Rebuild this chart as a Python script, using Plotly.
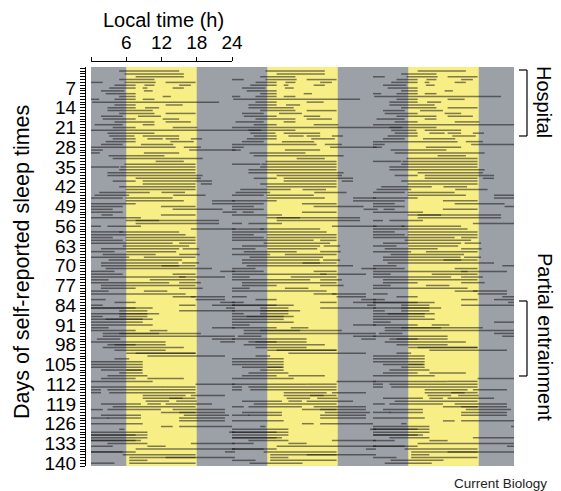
import plotly.graph_objects as go

# ---------------- data ----------------
# self-reported sleep episodes: day index, sleep onset (h), wake time (h)
sleep_day = [
    1, 2, 3, 4, 5, 5, 5, 6, 6, 6, 7, 7, 7, 8, 8, 9, 10, 10, 11, 11, 11,
    12, 13, 13, 14, 14, 15, 16, 16, 17, 17, 18, 18, 19, 19, 20, 20, 21, 21, 22,
    23, 24, 24, 25, 25, 25, 25, 26, 26, 27, 27, 28, 28, 29, 29, 30, 30, 31, 32, 33, 34,
    35, 35, 36, 37, 38, 39, 40, 40, 41, 41, 42, 43, 44, 44, 45, 45, 46, 46,
    47, 47, 48, 48, 49, 49, 50, 50, 51, 51, 52, 52, 53, 54, 54, 55, 56, 56, 57, 58, 58,
    59, 60, 60, 61, 61, 62, 62, 63, 64, 64, 65, 65, 66, 66, 67, 67, 68, 69, 69, 70, 70,
    71, 72, 72, 73, 73, 74, 74, 75, 75, 76, 76, 77, 78, 78, 79, 79, 80, 81, 81, 82, 82,
    83, 83, 84, 84, 84, 85, 85, 85, 86, 86, 87, 87, 88, 88, 89, 89, 90, 90, 91, 92, 92, 93, 93,
    94, 94, 95, 95, 96, 96, 97, 97, 98, 98, 99, 100, 101, 101, 102, 103, 104, 105,
    106, 107, 107, 108, 109, 110, 110, 111, 112, 113, 113, 114, 114, 115, 115, 116, 116, 117, 117,
    118, 118, 119, 119, 119, 120, 121, 121, 121, 122, 122, 123, 123, 124, 124, 124, 125, 126, 127, 127, 128, 129, 129,
    130, 130, 131, 132, 132, 133, 133, 134, 134, 135, 136, 136, 136, 137, 138, 138, 139, 140, 140, 141, 142,
]
sleep_on = [
    4.8, 5.7, 7.6, 4.8, 0.0, 5.7, 12.7, 4.0, 9.1, 15.0, 3.1, 8.8, 13.9, 1.7, 9.0, 2.5, 4.8, 12.2, 0.0, 4.0, 8.8,
    0.2, 4.0, 12.7, 2.8, 9.2, 2.8, 4.8, 12.7, 1.7, 8.0, 2.0, 12.2, 4.0, 12.7, 0.6, 8.8, 3.7, 13.9, 0.0,
    2.8, 3.1, 8.8, 3.7, 9.6, 12.7, 17.0, 2.5, 13.5, 1.7, 8.5, 0.0, 15.8, 0.0, 16.7, 0.0, 9.0, 3.0, 3.7, 11.0, 5.7,
    0.0, 5.0, 4.8, 2.8, 2.8, 7.6, 3.7, 8.8, 8.8, 18.7, 4.8, 5.9, 1.4, 12.0, 0.6, 14.0, 0.0, 5.9,
    5.9, 20.6, 0.0, 20.6, 0.0, 11.9, 0.0, 13.9, 0.0, 22.4, 1.8, 11.9, 0.0, 5.9, 7.6, 7.6, 0.0, 2.8, 17.0, 0.0, 4.8,
    0.0, 0.0, 5.9, 0.0, 5.9, 0.0, 15.0, 5.4, 1.7, 15.6, 0.0, 6.0, 2.0, 15.0, 0.0, 9.0, 3.0, 1.7, 15.5, 1.7, 12.0,
    2.5, 0.0, 22.0, 0.0, 13.9, 0.0, 15.0, 0.0, 10.0, 0.0, 15.0, 1.7, 1.7, 15.0, 0.0, 9.0, 0.0, 13.9, 17.0, 0.0, 17.8,
    4.0, 22.0, 0.0, 15.0, 20.6, 0.0, 0.0, 23.0, 4.8, 15.0, 0.0, 4.8, 0.0, 4.8, 0.0, 2.5, 0.0, 4.8, 0.0, 0.0, 20.6, 0.0, 10.0,
    4.8, 2.0, 2.0, 18.7, 1.0, 20.6, 0.0, 22.0, 2.8, 4.0, 2.0, 4.0, 6.0, 7.6, 9.6, 4.0, 0.0, 0.0,
    0.0, 1.7, 6.0, 4.8, 2.8, 1.7, 9.6, 0.0, 17.8, 0.0, 12.7, 0.0, 2.8, 0.0, 3.1, 8.8, 17.0, 8.8, 13.3,
    9.3, 14.5, 1.7, 9.6, 12.7, 3.7, 0.0, 2.8, 13.9, 11.9, 15.0, 1.7, 15.8, 0.0, 2.8, 15.0, 15.0, 0.0, 11.9, 15.0, 4.8, 0.0, 23.5,
    0.0, 0.0, 0.0, 0.0, 0.0, 2.8, 17.0, 0.0, 9.6, 7.6, 0.0, 0.0, 22.8, 5.4, 6.5, 12.7, 6.5, 0.0, 6.5, 3.0, 2.0,
]
sleep_off = [
    15.0, 15.8, 15.8, 10.8, 2.0, 11.0, 17.8, 7.6, 10.8, 17.0, 7.6, 9.6, 15.8, 5.7, 10.5, 7.6, 7.6, 13.6, 1.4, 7.6, 10.8,
    21.8, 7.6, 15.6, 7.6, 11.6, 10.5, 10.8, 17.8, 5.4, 11.9, 7.6, 15.0, 10.8, 17.0, 5.4, 10.8, 7.6, 18.1, 29.0,
    10.8, 7.4, 15.0, 7.6, 12.2, 15.0, 18.9, 7.6, 17.5, 5.4, 14.0, 14.4, 18.7, 2.0, 24.6, 1.5, 15.0, 12.5, 19.0, 15.8, 17.8,
    4.8, 17.8, 17.8, 17.8, 19.0, 18.7, 7.6, 20.6, 17.8, 20.6, 17.8, 17.8, 10.0, 16.0, 6.5, 19.5, 5.4, 13.9,
    15.8, 24.5, 7.6, 24.0, 5.4, 17.8, 3.7, 22.4, 5.4, 24.8, 3.7, 17.8, 8.5, 11.6, 21.8, 21.8, 1.7, 8.5, 24.6, 5.4, 15.0,
    16.1, 3.7, 17.8, 5.4, 17.8, 13.9, 17.8, 16.7, 15.0, 18.4, 4.0, 14.5, 11.0, 18.5, 6.5, 17.8, 15.5, 14.9, 18.4, 15.0, 17.8,
    20.6, 4.0, 24.5, 5.4, 17.8, 16.1, 22.8, 3.0, 17.8, 13.3, 18.7, 17.8, 7.6, 19.0, 3.0, 13.0, 16.1, 17.8, 22.8, 2.5, 22.8,
    7.6, 24.5, 2.0, 17.8, 24.5, 7.6, 10.5, 24.5, 9.6, 24.5, 9.6, 11.6, 2.0, 9.6, 8.8, 10.5, 4.8, 8.8, 10.5, 3.0, 24.5, 7.6, 13.0,
    11.6, 18.7, 18.7, 24.5, 5.0, 24.5, 12.7, 24.5, 7.6, 12.7, 15.8, 12.7, 17.8, 17.8, 22.8, 6.5, 8.8, 8.8,
    8.8, 8.8, 8.6, 8.8, 9.6, 7.6, 15.8, 10.5, 24.5, 12.7, 17.8, 1.7, 17.8, 1.7, 17.8, 16.1, 22.8, 15.6, 17.8,
    13.3, 18.0, 8.5, 11.9, 20.6, 17.8, 2.0, 11.9, 22.8, 17.8, 22.8, 8.5, 23.5, 3.0, 8.5, 22.8, 22.8, 8.8, 13.9, 24.0, 5.7, 9.6, 24.5,
    7.6, 9.6, 9.6, 8.5, 7.6, 9.6, 24.5, 3.7, 12.7, 24.5, 5.4, 7.6, 24.5, 17.8, 17.8, 24.5, 9.6, 4.0, 17.8, 12.0, 10.0,
]

n_rows = 140                      # days shown as rows
plot_days = 3                     # triple-plotted (72 h per row)
light_on = [6, 30, 54]            # daytime bands (h)
light_off = [18, 42, 66]
y_tick_days = list(range(7, 141, 7))
top_tick_hours = [0, 6, 12, 18, 24]
top_tick_text = ["", "6", "12", "18", "24"]

# ---------------- styling ----------------
FONT = "Liberation Sans, Arial, Helvetica, sans-serif"
GRAY = "#9ca0a7"
YELLOW = "#f8ee86"
LINE = "rgba(25,25,25,0.55)"

L, R, T, B = 85, 47, 61, 25
FW, FH = 561, 491
W = FW - L - R
H = FH - T - B


def px(xp):
    return (xp - L) / W


def py(yp):
    return (FH - B - yp) / H


# ---------------- build the triple plot ----------------
xs, ys = [], []
for row in range(1, n_rows + 1):
    for k in range(plot_days):
        d = row + k
        for dd, on, off in zip(sleep_day, sleep_on, sleep_off):
            if dd == d:
                xs += [on + 24 * k, off + 24 * k, None]
                ys += [row, row, None]

fig = go.Figure()
fig.add_trace(go.Scatter(x=xs, y=ys, mode="lines",
                         line=dict(color=LINE, width=1.5),
                         hoverinfo="skip", showlegend=False))
# carrier trace for the top "Local time" axis
fig.add_trace(go.Scatter(x=[0, 24], y=[1, 1], xaxis="x2", yaxis="y",
                         mode="lines", opacity=0, hoverinfo="skip",
                         showlegend=False))

shapes = [dict(type="rect", xref="x", yref="y domain", x0=0, x1=72, y0=0, y1=1,
               fillcolor=GRAY, line=dict(width=0), layer="below")]
for a, b in zip(light_on, light_off):
    shapes.append(dict(type="rect", xref="x", yref="y domain", x0=a, x1=b,
                       y0=0, y1=1, fillcolor=YELLOW, line=dict(width=0),
                       layer="below"))


def bracket(y_top, y_bot, x_line=527, x_tick=519):
    return [
        dict(type="line", xref="paper", yref="paper", x0=px(x_line), x1=px(x_line),
             y0=py(y_top), y1=py(y_bot), line=dict(color="black", width=1.2)),
        dict(type="line", xref="paper", yref="paper", x0=px(x_tick), x1=px(x_line),
             y0=py(y_top), y1=py(y_top), line=dict(color="black", width=1.2)),
        dict(type="line", xref="paper", yref="paper", x0=px(x_tick), x1=px(x_line),
             y0=py(y_bot), y1=py(y_bot), line=dict(color="black", width=1.2)),
    ]


shapes += bracket(70, 136)
shapes += bracket(301, 376)

x_start = 91
px_per_h = (514 - x_start) / 72.0

fig.update_layout(
    width=FW, height=FH,
    margin=dict(l=L, r=R, t=T, b=B, pad=0),
    paper_bgcolor="white",
    plot_bgcolor="rgba(0,0,0,0)",
    font=dict(family=FONT, color="black"),
    showlegend=False,
    shapes=shapes,
    xaxis=dict(domain=[px(x_start), 1], range=[0, 72], anchor="y",
               showgrid=False, zeroline=False, showticklabels=False,
               ticks="", showline=False, fixedrange=True),
    xaxis2=dict(domain=[px(x_start), px(x_start + 24 * px_per_h)], range=[0, 24],
                anchor="free", position=1, side="top",
                tickvals=top_tick_hours, ticktext=top_tick_text,
                ticks="outside", ticklen=4, tickcolor="black", tickwidth=1,
                showline=True, linecolor="black", linewidth=1,
                showgrid=False, zeroline=False,
                tickfont=dict(size=19, family=FONT, color="black")),
    yaxis=dict(domain=[0, py(67)], range=[141.0, -0.46], anchor="free", position=0,
               tickvals=y_tick_days, ticktext=[str(v) for v in y_tick_days],
               ticks="outside", ticklen=5, tickcolor="black", tickwidth=1,
               minor=dict(tickmode="linear", tick0=0, dtick=1, ticks="outside",
                          ticklen=5, tickcolor="black", tickwidth=1),
               showline=True, linecolor="black", linewidth=1,
               showgrid=False, zeroline=False,
               tickfont=dict(size=19, family=FONT, color="black")),
    annotations=[
        dict(text="Local time (h)", xref="paper", yref="paper",
             x=px(163), y=py(20), xanchor="center", yanchor="middle",
             showarrow=False, font=dict(size=20, family=FONT)),
        dict(text="Days of self-reported sleep times", xref="paper", yref="paper",
             x=px(22), y=py(262), xanchor="center", yanchor="middle",
             textangle=-90, showarrow=False, font=dict(size=21.5, family=FONT)),
        dict(text="Hospital", xref="paper", yref="paper",
             x=px(544), y=py(102), xanchor="center", yanchor="middle",
             textangle=90, showarrow=False, font=dict(size=20, family=FONT)),
        dict(text="Partial entrainment", xref="paper", yref="paper",
             x=px(545), y=py(337), xanchor="center", yanchor="middle",
             textangle=90, showarrow=False, font=dict(size=20, family=FONT)),
        dict(text="Current Biology", xref="paper", yref="paper",
             x=px(549), y=py(483), xanchor="right", yanchor="middle",
             showarrow=False, font=dict(size=13.5, family=FONT, color="#222")),
    ],
)

fig.write_html("out.html",
               config={"displayModeBar": False},
               post_script="document.body.style.margin='0px';document.body.style.overflow='hidden';")
